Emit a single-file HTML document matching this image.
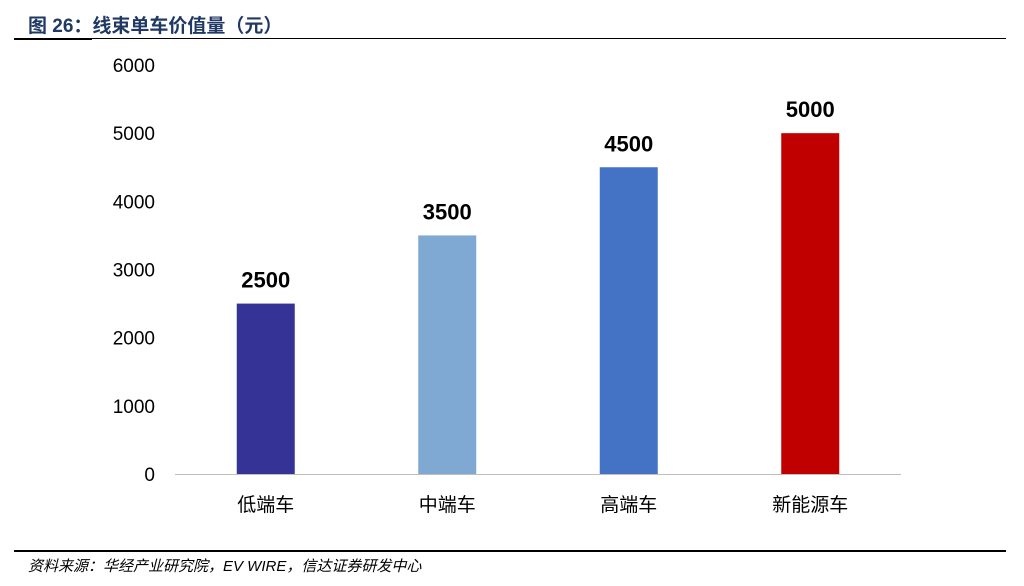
<!DOCTYPE html>
<html><head><meta charset="utf-8"><style>
html,body{margin:0;padding:0;background:#fff;width:1024px;height:586px;overflow:hidden}
svg{display:block}
</style></head><body>
<svg width="1024" height="586" xmlns="http://www.w3.org/2000/svg">
<text x="28" y="32" font-family="'Liberation Sans','Noto Sans CJK SC',sans-serif" font-weight="bold" font-size="19" fill="#1f3864">图 26：线束单车价值量（元）</text>
<rect x="14" y="38" width="78" height="2" fill="#000"/>
<rect x="14" y="38" width="992" height="1" fill="#000"/>
<g id="yaxis"></g>
<g id="bars"></g>
<g id="xaxis"></g>
<rect x="14" y="550" width="992" height="2" fill="#000"/>
<text x="28" y="571" font-family="'Liberation Sans','Noto Sans CJK SC',sans-serif" font-style="italic" font-size="15" fill="#000">资料来源：华经产业研究院，EV WIRE，信达证券研发中心</text>
</svg>
<script>
const categories = ["低端车","中端车","高端车","新能源车"];
const values = [2500,3500,4500,5000];
const colors = ["#353396","#7fa9d3","#4472c4","#c00000"];
const yTicks = [0,1000,2000,3000,4000,5000,6000];
const NS="http://www.w3.org/2000/svg";
const y0=474, yMax=6000, yTop=65;
function yScale(v){return y0-(v/yMax)*(y0-yTop);}
const xLeft=175, xRight=901, band=(xRight-xLeft)/categories.length;
function xCenter(i){return xLeft+band*(i+0.5);}
const barW=58;
const F="'Liberation Sans','Noto Sans CJK SC',sans-serif";
function mk(tag,attrs,parent){const e=document.createElementNS(NS,tag);for(const k in attrs)e.setAttribute(k,attrs[k]);parent.appendChild(e);return e;}
const ya=document.getElementById('yaxis');
yTicks.forEach(t=>{
  const e=mk('text',{x:155,y:yScale(t)+7,'text-anchor':'end','font-family':F,'font-size':19,fill:'#000'},ya);
  
  
  e.textContent=t;
});
const bg=document.getElementById('bars');
values.forEach((v,i)=>{
  const r=mk('rect',{x:xCenter(i)-barW/2,y:yScale(v),width:barW,height:y0-yScale(v),fill:colors[i]},bg);
  
  
  const l=mk('text',{x:xCenter(i),y:yScale(v)-16,'text-anchor':'middle','font-family':F,'font-size':22,'font-weight':'bold',fill:'#000'},bg);
  
  
  l.textContent=v;
});
const xa=document.getElementById('xaxis');
const ax=mk('line',{x1:xLeft,y1:y0+0.5,x2:xRight,y2:y0+0.5,stroke:'#bfbfbf','stroke-width':1},xa);


categories.forEach((c,i)=>{
  const e=mk('text',{x:xCenter(i),y:511,'text-anchor':'middle','font-family':F,'font-size':19,fill:'#000'},xa);
  
  
  e.textContent=c;
});
</script>
</body></html>
